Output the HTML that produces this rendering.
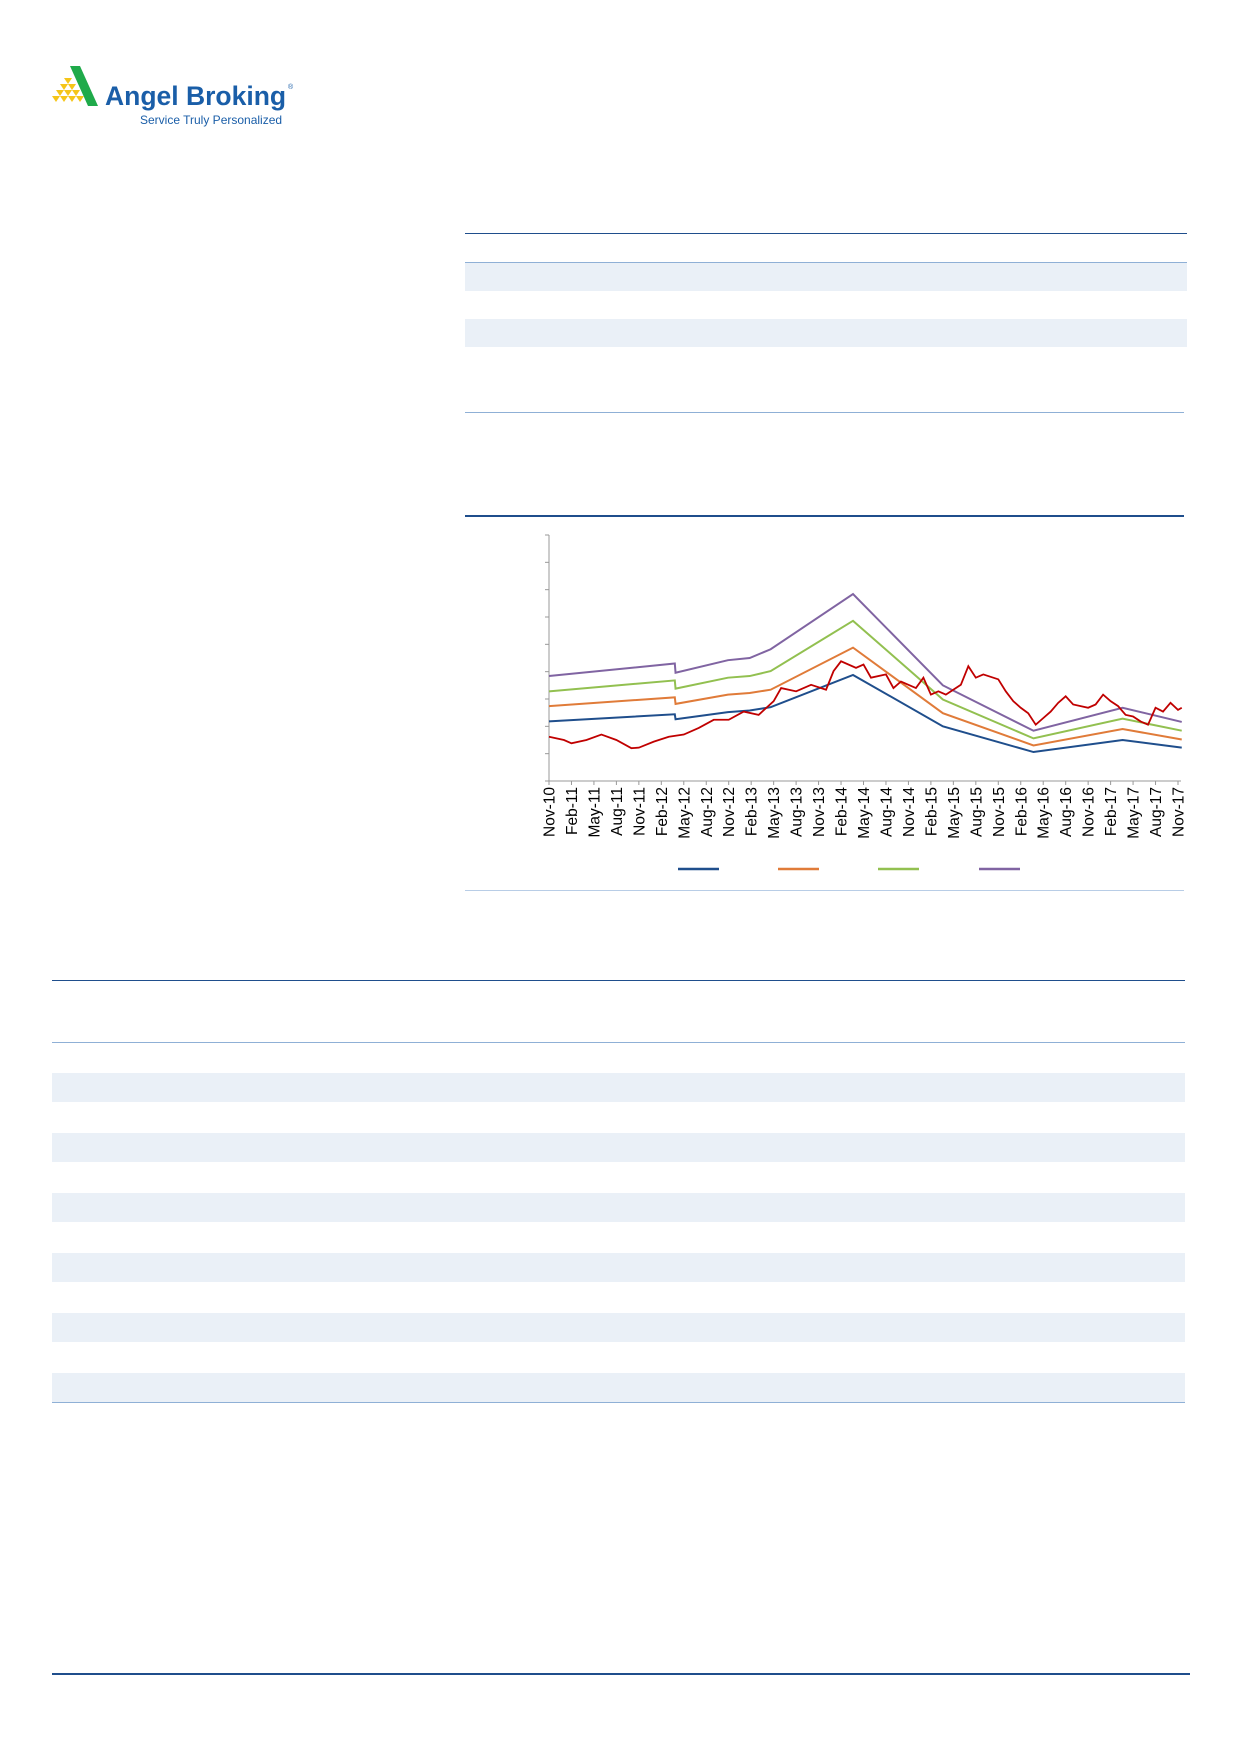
<!DOCTYPE html>
<html><head><meta charset="utf-8"><style>
body{margin:0;background:#fff;width:1240px;height:1754px;position:relative;overflow:hidden;font-family:"Liberation Sans",sans-serif}
.a{position:absolute}
.hl{position:absolute;height:1px;background:#1f4e8c}
.sh{position:absolute;background:#eaf0f7}
</style></head><body>
<div class="a" style="left:52px;top:64px;width:270px;height:70px">
<svg width="270" height="70">
<polygon points="18,2 28,2 46,42 36,42" fill="#1faa4a"/>
<g fill="#f5c518">
<polygon points="12,14 20,14 16,20"/><polygon points="8,20 16,20 12,26"/><polygon points="16,20 24,20 20,26"/>
<polygon points="4,26 12,26 8,32"/><polygon points="12,26 20,26 16,32"/><polygon points="20,26 28,26 24,32"/>
<polygon points="0,32 8,32 4,38"/><polygon points="8,32 16,32 12,38"/><polygon points="16,32 24,32 20,38"/><polygon points="24,32 32,32 28,38"/>
</g>
<text x="53" y="41" font-family="Liberation Sans" font-weight="bold" font-size="26.5" fill="#1a5ea8">Angel Broking</text>
<text x="236" y="25" font-size="7" fill="#1a5ea8">®</text>
<text x="88" y="60" font-size="12" fill="#1a5ea8">Service Truly Personalized</text>
</svg></div>

<div class="hl" style="left:465px;top:233px;width:722px"></div>
<div class="hl" style="left:465px;top:262px;width:722px;background:#8fb0d6"></div>
<div class="sh" style="left:465px;top:263px;width:722px;height:28px"></div>
<div class="sh" style="left:465px;top:319px;width:722px;height:28px"></div>
<div class="hl" style="left:465px;top:412px;width:719px;background:#8fb0d6"></div>
<div class="hl" style="left:465px;top:515px;width:719px;height:2px"></div>
<div class="hl" style="left:465px;top:890px;width:719px;background:#b8cde6"></div>

<svg class="a" id="chart" style="left:0;top:0" width="1240" height="900"></svg>

<div class="hl" style="left:52px;top:980px;width:1133px"></div>
<div class="hl" style="left:52px;top:1042px;width:1133px;background:#8fb0d6"></div>
<div class="sh" style="left:52px;top:1073px;width:1133px;height:29px"></div>
<div class="sh" style="left:52px;top:1133px;width:1133px;height:29px"></div>
<div class="sh" style="left:52px;top:1193px;width:1133px;height:29px"></div>
<div class="sh" style="left:52px;top:1253px;width:1133px;height:29px"></div>
<div class="sh" style="left:52px;top:1313px;width:1133px;height:29px"></div>
<div class="sh" style="left:52px;top:1373px;width:1133px;height:29px"></div>
<div class="hl" style="left:52px;top:1402px;width:1133px;background:#8fb0d6"></div>
<div class="hl" style="left:52px;top:1673px;width:1138px;height:2px"></div>

<script>
const xLabels=["Nov-10","Feb-11","May-11","Aug-11","Nov-11","Feb-12","May-12","Aug-12","Nov-12","Feb-13","May-13","Aug-13","Nov-13","Feb-14","May-14","Aug-14","Nov-14","Feb-15","May-15","Aug-15","Nov-15","Feb-16","May-16","Aug-16","Nov-16","Feb-17","May-17","Aug-17","Nov-17"];
const bandMonths=[0,16.8,16.9,23.9,26.8,29.6,40.6,52.6,64.7,76.6,84.5];
const band1=[109,122,113,126,129,135,194,100,53,75,61];
const band2=[137,153,141,158,161,167,244,124,65,95,76];
const band3=[164,184,169,189,192,201,293,149,78,114,92];
const band4=[192,215,198,221,225,241,342,175,92,134,108];
const priceMonths=[0,2,3,5,7,9,11,12,14,16,18,20,22,24,26,28,30,31,33,35,37,38,39,41,42,43,45,46,47,49,50,51,52,53,55,56,57,58,60,61,62,63,64,65,66,67,68,69,70,71,72,73,74,75,76,77,78,79,80,81,82,83,84,84.5];
const price=[81,75,69,75,85,75,60,61,72,81,85,97,112,112,127,121,146,170,164,176,167,201,219,207,213,189,195,170,182,170,189,158,164,158,176,210,189,195,186,164,146,134,124,103,115,127,143,155,140,137,134,140,158,146,137,121,118,109,103,134,127,143,130,134];
const yTicks=[0,50,100,150,200,250,300,350,400,450];
const X0=549,X1=1178,Y0=781,Y1=535,M=84;
const xs=m=>X0+(X1-X0)*m/M, ys=v=>Y0-(Y0-Y1)*v/450;
const svg=document.getElementById('chart'),NS='http://www.w3.org/2000/svg';
function mk(t,a){const e=document.createElementNS(NS,t);for(const k in a)e.setAttribute(k,a[k]);svg.appendChild(e);return e;}
const ax=mk('line',{x1:X0,y1:Y1,x2:X0,y2:Y0,stroke:'#999'});


const bx=mk('line',{x1:X0,y1:Y0,x2:X1+3,y2:Y0,stroke:'#999'});


yTicks.forEach(v=>{const t=mk('line',{x1:X0-4,x2:X0,y1:ys(v),y2:ys(v),stroke:'#999'});

});
xLabels.forEach((l,i)=>{const x=xs(i*3);
const t=mk('line',{x1:x,x2:x,y1:Y0,y2:Y0+4,stroke:'#999'});


const tx=mk('text',{x:0,y:0,transform:`translate(${x+5.5},${Y0+6}) rotate(-90)`,'text-anchor':'end','font-size':'15.5','font-family':'Liberation Sans',fill:'#000'});
tx.textContent=l;

});
const series=[[band1,'#1f4e8c','band-1-line'],[band2,'#e07b39','band-2-line'],[band3,'#92c050','band-3-line'],[band4,'#8064a2','band-4-line']];
series.forEach(([d,c,n])=>{const p=mk('polyline',{points:d.map((v,i)=>xs(bandMonths[i])+','+ys(v)).join(' '),fill:'none',stroke:c,'stroke-width':2});

});
const pr=mk('polyline',{points:price.map((v,i)=>xs(priceMonths[i])+','+ys(v)).join(' '),fill:'none',stroke:'#c00000','stroke-width':1.8});


const legX=[678,778,878,979];
series.forEach(([d,c,n],i)=>{const l=mk('line',{x1:legX[i],x2:legX[i]+41,y1:869,y2:869,stroke:c,'stroke-width':2.5});

});
</script>
</body></html>
